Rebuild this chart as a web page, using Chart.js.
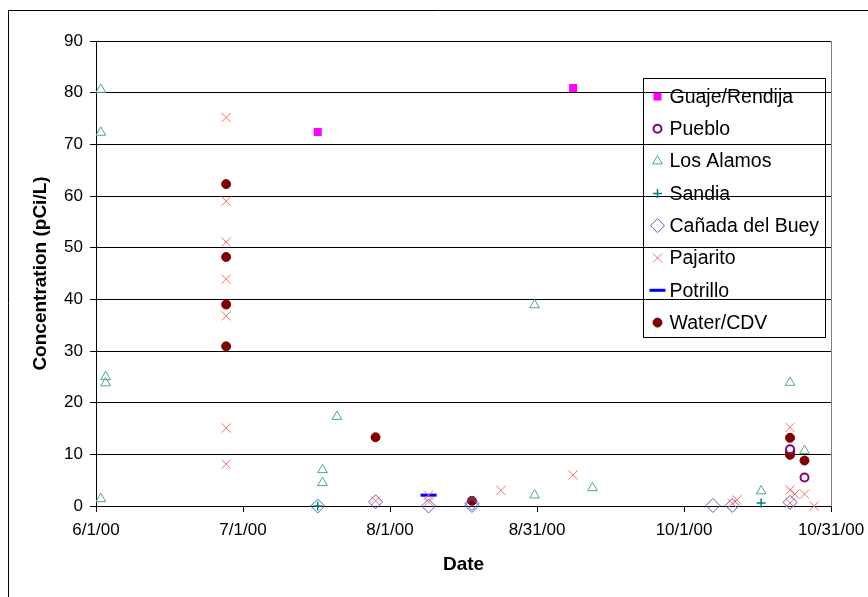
<!DOCTYPE html>
<html>
<head>
<meta charset="utf-8">
<script src="https://cdn.jsdelivr.net/npm/chart.js@4.4.1/dist/chart.umd.min.js"></script>
<style>
  body { margin: 0; background: #fff; overflow: hidden; }
  canvas { display: block; }
</style>
</head>
<body>
<canvas id="myChart" width="868" height="597"></canvas>
<script>
// sample dates (M/D/YY) and concentrations in pCi/L, one pair of arrays per site
const guajeDates = ['7/17/00', '9/8/00'];
const guajeValues = [72.4, 80.9];

const puebloDates = ['10/23/00', '10/26/00'];
const puebloValues = [11.0, 5.5];

const losAlamosDates = ['6/2/00', '6/2/00', '6/2/00', '6/3/00', '6/3/00', '7/18/00', '7/18/00', '7/21/00',
  '8/31/00', '8/31/00', '9/12/00', '10/17/00', '10/23/00', '10/26/00'];
const losAlamosValues = [80.6, 72.3, 1.4, 25.0, 23.8, 7.0, 4.5, 17.3, 38.9, 2.1, 3.5, 2.9, 23.9, 10.7];

const sandiaDates = ['7/17/00', '10/17/00'];
const sandiaValues = [0, 0.6];

const canadaDates = ['7/17/00', '7/29/00', '8/9/00', '8/18/00', '8/18/00', '10/7/00', '10/11/00', '10/23/00'];
const canadaValues = [0, 0.8, 0, 0.5, 0.1, 0.1, 0.1, 0.7];

const pajaritoDates = ['6/28/00', '6/28/00', '6/28/00', '6/28/00', '6/28/00', '6/28/00', '6/28/00',
  '7/29/00', '8/9/00', '8/9/00', '8/24/00', '9/8/00', '10/11/00', '10/12/00',
  '10/23/00', '10/23/00', '10/23/00', '10/24/00', '10/26/00', '10/28/00'];
const pajaritoValues = [75.2, 59.0, 51.1, 43.9, 36.8, 15.1, 8.1,
  1.0, 2.1, 0.8, 3.0, 6.0, 0.5, 1.2,
  15.2, 3.1, 0.6, 2.3, 2.3, 0];

const potrilloDates = ['8/9/00'];
const potrilloValues = [2.1];

const waterDates = ['6/28/00', '6/28/00', '6/28/00', '6/28/00', '7/29/00', '8/18/00',
  '10/23/00', '10/23/00', '10/23/00', '10/26/00'];
const waterValues = [62.3, 48.2, 39.0, 30.9, 13.3, 1.0, 13.2, 10.4, 9.9, 8.8];

// x axis runs in days from 6/1/00, labelled every 30.5 days
const startDay = Date.UTC(2000, 5, 1);
const dayMs = 86400000;

function toDay(s) {
  const p = s.split('/').map(Number);
  return (Date.UTC(2000 + p[2], p[0] - 1, p[1]) - startDay) / dayMs;
}

function dayLabel(v) {
  const d = new Date(startDay + Math.floor(v + 1e-6) * dayMs);
  return (d.getUTCMonth() + 1) + '/' + d.getUTCDate() + '/00';
}

function points(dates, values) {
  return dates.map((s, i) => ({ x: toDay(s), y: values[i] }));
}

const font = 'Liberation Sans';

function series(label, dates, values, style) {
  return Object.assign({
    label: label,
    data: points(dates, values),
    showLine: false,
    clip: false,
    pointHoverRadius: style.pointRadius
  }, style);
}

const datasets = [
  series('Guaje/Rendija', guajeDates, guajeValues,
    { pointStyle: 'rect', pointRadius: 5.7, borderWidth: 0, borderColor: '#ff00ff', backgroundColor: '#ff00ff' }),
  series('Pueblo', puebloDates, puebloValues,
    { pointStyle: 'circle', pointRadius: 4, borderWidth: 2, borderColor: '#800080', backgroundColor: '#ffffff' }),
  series('Los Alamos', losAlamosDates, losAlamosValues,
    { pointStyle: 'triangle', pointRadius: 5.6, borderWidth: 1, borderColor: '#4aab7c', backgroundColor: 'rgba(0,0,0,0)' }),
  series('Sandia', sandiaDates, sandiaValues,
    { pointStyle: 'cross', pointRadius: 4.5, borderWidth: 1.5, borderColor: '#008080', backgroundColor: 'rgba(0,0,0,0)' }),
  series('Cañada del Buey', canadaDates, canadaValues,
    { pointStyle: 'rectRot', pointRadius: 7, borderWidth: 1, borderColor: '#5a5ac4', backgroundColor: 'rgba(0,0,0,0)' }),
  series('Pajarito', pajaritoDates, pajaritoValues,
    { pointStyle: 'crossRot', pointRadius: 6.5, borderWidth: 1, borderColor: '#ff6a6a', backgroundColor: 'rgba(0,0,0,0)' }),
  series('Potrillo', potrilloDates, potrilloValues,
    { pointStyle: 'line', pointRadius: 8, borderWidth: 3, borderColor: '#0000ff', backgroundColor: '#0000ff' }),
  series('Water/CDV', waterDates, waterValues,
    { pointStyle: 'circle', pointRadius: 4.5, borderWidth: 1, borderColor: '#800000', backgroundColor: '#800000' })
];

// outer frame, grey right edge of the plot and the boxed legend
const framePlugin = {
  id: 'frame',
  afterDraw(chart) {
    const ctx = chart.ctx;
    const area = chart.chartArea;
    ctx.save();
    ctx.lineWidth = 1;
    ctx.strokeStyle = '#808080';
    ctx.beginPath();
    ctx.moveTo(Math.round(area.right) + 0.5, area.top);
    ctx.lineTo(Math.round(area.right) + 0.5, area.bottom);
    ctx.stroke();

    ctx.strokeStyle = '#000';
    ctx.beginPath();
    ctx.moveTo(8.5, chart.height);
    ctx.lineTo(8.5, 10.5);
    ctx.lineTo(chart.width, 10.5);
    ctx.stroke();

    const left = Math.round(area.right) - 188 + 0.5;
    const top = Math.round(area.top) + 37 + 0.5;
    ctx.strokeRect(left, top, 182, 259);

    ctx.font = '19.5px "' + font + '"';
    ctx.textBaseline = 'middle';
    ctx.textAlign = 'left';
    chart.data.datasets.forEach((ds, i) => {
      const y = top + 18 + i * 32.3;
      ctx.fillStyle = ds.backgroundColor;
      ctx.strokeStyle = ds.borderColor;
      ctx.lineWidth = ds.borderWidth;
      Chart.helpers.drawPoint(ctx, {
        pointStyle: ds.pointStyle,
        radius: ds.pointRadius,
        rotation: 0,
        borderWidth: ds.borderWidth
      }, left + 14, y);
      ctx.fillStyle = '#000';
      ctx.fillText(ds.label, left + 26, y + 1);
    });
    ctx.restore();
  }
};

new Chart('myChart', {
  type: 'scatter',
  data: { datasets: datasets },
  options: {
    responsive: false,
    animation: false,
    events: [],
    layout: { padding: { left: 0, right: 37, top: 41, bottom: 0 } },
    plugins: {
      legend: { display: false },
      tooltip: { enabled: false }
    },
    scales: {
      x: {
        type: 'linear',
        min: 0,
        max: 152.5,
        afterFit(scale) {
          scale.height = 91;
          scale.paddingLeft = 0;
          scale.paddingRight = 0;
        },
        ticks: {
          stepSize: 30.5,
          autoSkip: false,
          maxRotation: 0,
          padding: 8,
          color: '#000',
          font: { family: font, size: 17 },
          callback: dayLabel
        },
        grid: { drawOnChartArea: false, tickLength: 6, color: '#000' },
        border: { color: '#000' },
        title: {
          display: true,
          text: 'Date',
          color: '#000',
          font: { family: font, size: 19, weight: 'bold' },
          padding: { top: 0, bottom: 21 }
        }
      },
      y: {
        min: 0,
        max: 90,
        afterFit(scale) {
          scale.width = 96;
          scale.paddingTop = 0;
          scale.paddingBottom = 0;
        },
        ticks: {
          stepSize: 10,
          padding: 7,
          color: '#000',
          font: { family: font, size: 17 }
        },
        grid: { color: '#000', tickLength: 6 },
        border: { color: '#000' },
        title: {
          display: true,
          text: 'Concentration (pCi/L)',
          color: '#000',
          font: { family: font, size: 19, weight: 'bold' },
          padding: { top: 29, bottom: 0 }
        }
      }
    }
  },
  plugins: [framePlugin]
});
</script>
</body>
</html>
